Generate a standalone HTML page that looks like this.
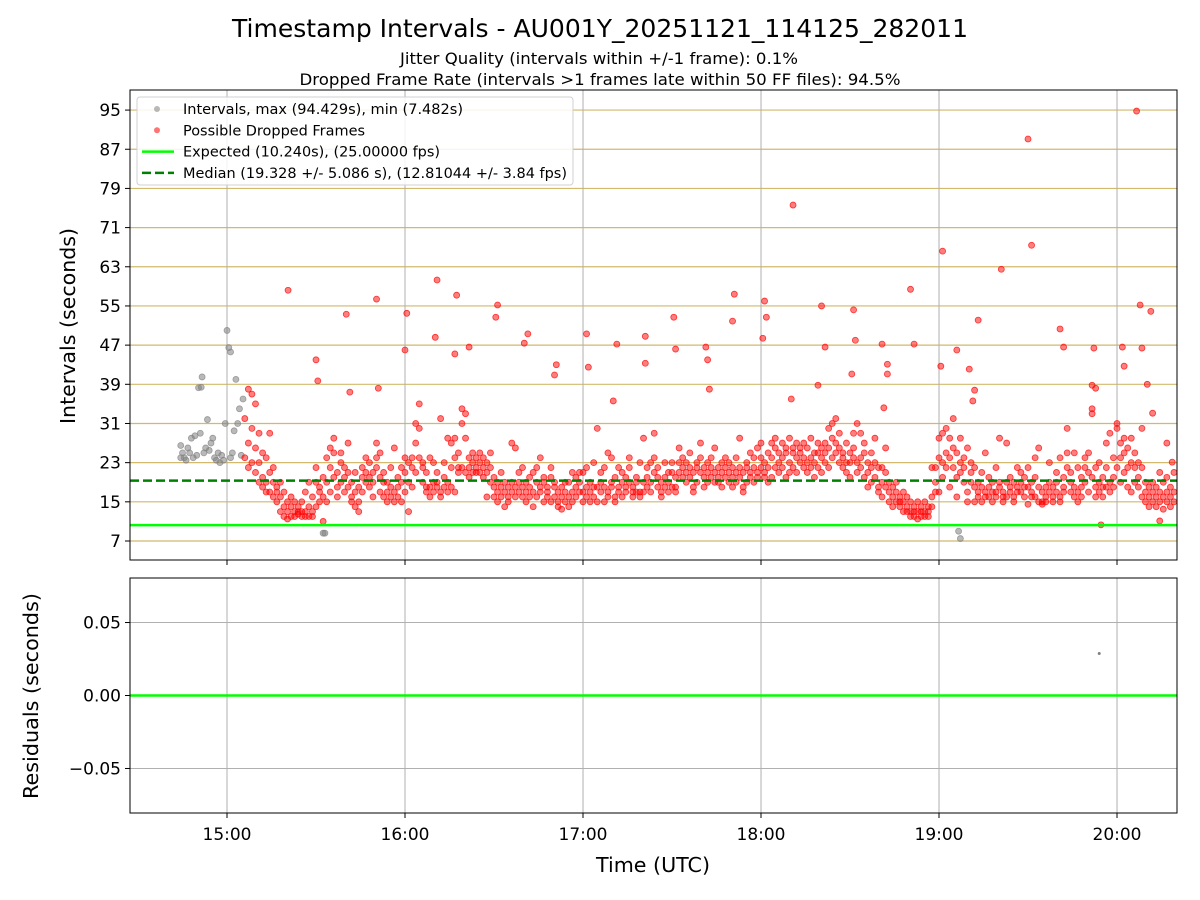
<!DOCTYPE html>
<html><head><meta charset="utf-8"><style>
html,body{margin:0;padding:0;background:#fff;}
svg{display:block;font-family:"DejaVu Sans","Liberation Sans",sans-serif;}
</style></head><body>
<svg id="chart" width="1200" height="900" viewBox="0 0 1200 900" xmlns="http://www.w3.org/2000/svg">
<rect width="1200" height="900" fill="#fff"/>
<text x="600" y="37" text-anchor="middle" font-size="25" textLength="736" lengthAdjust="spacingAndGlyphs">Timestamp Intervals - AU001Y_20251121_114125_282011</text>
<text x="599" y="64" text-anchor="middle" font-size="16" textLength="398" lengthAdjust="spacingAndGlyphs">Jitter Quality (intervals within +/-1 frame): 0.1%</text>
<text x="600" y="85" text-anchor="middle" font-size="16" textLength="601" lengthAdjust="spacingAndGlyphs">Dropped Frame Rate (intervals &gt;1 frames late within 50 FF files): 94.5%</text>
<g id="topg"></g>
<g id="botg"></g>
<text transform="translate(75,326) rotate(-90)" text-anchor="middle" font-size="20" textLength="196" lengthAdjust="spacingAndGlyphs">Intervals (seconds)</text>
<text transform="translate(38,696) rotate(-90)" text-anchor="middle" font-size="20" textLength="206" lengthAdjust="spacingAndGlyphs">Residuals (seconds)</text>
<text x="653" y="872" text-anchor="middle" font-size="20" textLength="114" lengthAdjust="spacingAndGlyphs">Time (UTC)</text>
</svg>
<script>
const yTicks=[7,15,23,31,39,47,55,63,71,79,87,95];
const xTickHours=[15,16,17,18,19,20];
const xTickLabels=["15:00","16:00","17:00","18:00","19:00","20:00"];
const resTicks=[0.05,0,-0.05];
const resTickLabels=["0.05","0.00","\u22120.05"];
const expectedValue=10.24;
const medianValue=19.328;
const grayTimes=[14.74,14.74,14.75,14.76,14.77,14.78,14.79,14.80,14.81,14.82,14.83,14.84,14.85,14.855,14.86,14.87,14.88,14.89,14.90,14.91,14.92,14.93,14.94,14.95,14.96,14.97,14.98,14.99,15.00,15.01,15.02,15.03,15.04,15.05,15.06,15.07,15.08,15.09,15.02,15.54,15.55,19.11,19.12];
const grayValues=[24,26.5,25,24,23.5,26,25,28,24,28.5,24.5,38.3,29,38.4,40.5,25,26,31.8,25.5,27,28,24,23.5,25,23,24.5,23.5,31,50,46.5,45.6,25,29.5,40,31,34,24.5,36,24,8.6,8.6,9,7.5];
const outlierTimes=[15.343,15.5,15.51,15.67,15.69,15.84,15.85,16.01,16.0,16.18,16.17,16.29,16.28,16.36,16.52,16.51,16.69,16.67,16.85,16.84,17.02,17.03,17.19,17.17,17.35,17.35,17.51,17.52,17.69,17.70,17.71,17.84,17.85,18.02,18.03,18.01,18.18,18.17,18.34,18.36,18.32,18.52,18.53,18.51,18.68,18.71,18.71,18.69,18.84,18.86,19.02,19.01,19.10,19.17,19.2,19.19,19.22,19.35,19.50,19.52,19.68,19.70,19.87,19.86,19.88,20.03,20.04,20.11,20.13,20.14,20.19,20.17,20.2,20.24,19.91,20.28,20.31];
const outlierValues=[58.2,44,39.7,53.3,37.4,56.4,38.2,53.5,46,60.3,48.6,57.2,45.2,46.6,55.2,52.7,49.3,47.4,43,40.9,49.3,42.5,47.2,35.6,48.8,43.3,52.7,46.2,46.6,44,38,51.9,57.4,56,52.7,48.4,75.6,36,55,46.6,38.8,54.2,48,41.1,47.2,43.1,41.1,34.2,58.4,47.2,66.2,42.7,46,42.1,37.8,35.6,52.1,62.5,89.1,67.4,50.3,46.6,46.4,38.8,38.2,46.6,42.7,94.8,55.2,46.4,53.9,39,33.1,11.1,10.3,27,23.1];
const bandTimes=[15.10,15.12,15.14,15.16,15.18,15.20,15.22,15.24,15.26,15.28,15.30,15.32,15.34,15.36,15.38,15.40,15.42,15.44,15.46,15.48,15.50,15.52,15.54,15.56,15.58,15.60,15.62,15.64,15.66,15.68,15.70,15.72,15.74,15.76,15.78,15.80,15.82,15.84,15.86,15.88,15.90,15.92,15.94,15.96,15.98,16.00,16.02,16.04,16.06,16.08,16.10,16.12,16.14,16.16,16.18,16.20,16.22,16.24,16.26,16.28,16.30,16.32,16.34,16.36,16.38,16.40,16.42,16.44,16.46,16.48,16.50,16.52,16.54,16.56,16.58,16.60,16.62,16.64,16.66,16.68,16.70,16.72,16.74,16.76,16.78,16.80,16.82,16.84,16.86,16.88,16.90,16.92,16.94,16.96,16.98,17.00,17.02,17.04,17.06,17.08,17.10,17.12,17.14,17.16,17.18,17.20,17.22,17.24,17.26,17.28,17.30,17.32,17.34,17.36,17.38,17.40,17.42,17.44,17.46,17.48,17.50,17.52,17.54,17.56,17.58,17.60,17.62,17.64,17.66,17.68,17.70,17.72,17.74,17.76,17.78,17.80,17.82,17.84,17.86,17.88,17.90,17.92,17.94,17.96,17.98,18.00,18.02,18.04,18.06,18.08,18.10,18.12,18.14,18.16,18.18,18.20,18.22,18.24,18.26,18.28,18.30,18.32,18.34,18.36,18.38,18.40,18.42,18.44,18.46,18.48,18.50,18.52,18.54,18.56,18.58,18.60,18.62,18.64,18.66,18.68,18.70,18.72,18.74,18.76,18.78,18.80,18.82,18.84,18.86,18.88,18.90,18.92,18.94,18.96,18.98,19.00,19.02,19.04,19.06,19.08,19.10,19.12,19.14,19.16,19.18,19.20,19.22,19.24,19.26,19.28,19.30,19.32,19.34,19.36,19.38,19.40,19.42,19.44,19.46,19.48,19.50,19.52,19.54,19.56,19.58,19.60,19.62,19.64,19.66,19.68,19.70,19.72,19.74,19.76,19.78,19.80,19.82,19.84,19.86,19.88,19.90,19.92,19.94,19.96,19.98,20.00,20.02,20.04,20.06,20.08,20.10,20.12,20.14,20.16,20.18,20.20,20.22,20.24,20.26,20.28,20.30,20.32];
const bandValues=[[24,32],[22,38,27],[23,37,30],[26,35,21],[23,29,19],[20,25,18],[19,24,17],[17,21,29],[16,19,22],[17,18,15],[13,16,19],[14,12,17],[13,15,11.5],[12,14,16],[13,12,15],[12.5,14,13],[12,13,15],[13,12,17],[12,14,19],[13,12,16],[14,19,22],[15,17,18],[11,16,20],[19,24,15],[22,26,17],[25,28,20],[18,21,16],[19,23,25],[20,22,17],[21,27,18],[16,15,19],[14,17,21],[15,13,18],[17,20,22],[19,24,21],[20,18,23],[21,16,19],[24,27,22],[20,25,17],[19,21,16],[17,15,19],[16,18,22],[15,17,26],[18,20,16],[19,15,22],[17,21,24],[13,19,23],[22,24,18],[31,27,21],[30,24,35],[22,23,19],[17,21,18],[16,18,24],[17,23,19],[19,21,18],[17,32,16],[18,23,20],[17,28,19],[22,18,27],[28,24,17],[22,21,25],[34,31,22],[33,28,21],[22,24,20],[23,21,25],[22,24,21],[21,23,25],[24,22,20],[23,16,21],[19,22,25],[18,16,20],[17,19,15],[18,16,21],[17,19,14],[16,18,15],[19,27,17],[18,26,16],[21,17,19],[16,18,22],[15,17,19],[18,20,16],[17,14,21],[19,16,22],[18,17,24],[15,19,20],[17,16,18],[20,22,15],[18,16,19],[15,14,17],[16,18,13.5],[15,17,19],[14,16,19],[17,15,21],[18,20,16],[19,21,17],[15,17,21],[18,16,22],[15,19,17],[23,16,18],[30,18,15],[21,17,19],[15,18,22],[17,25,16],[19,24,18],[16,15,20],[17,18,22],[19,16,21],[18,20,17],[22,24,19],[16,18,17],[19,17,20],[16,17,23],[17,28,19],[20,22,18],[17,19,23],[24,29,21],[22,20,18],[17,19,16],[20,23,18],[21,19,17],[23,21,18],[20,18,17],[26,21,23],[22,24,20],[19,21,23],[25,22,20],[18,17,21],[23,19,22],[21,27,24],[22,20,18],[19,21,23],[24,20,22],[21,19,26],[20,22,19],[18,21,23],[22,20,24],[19,23,21],[20,22,18],[19,21,24],[22,28,20],[21,18,17],[23,19,22],[20,25,21],[22,19,24],[26,21,20],[24,22,27],[23,20,21],[19,25,22],[24,27,20],[26,22,28],[25,21,23],[27,24,22],[26,20,25],[28,23,21],[26,25,22],[24,27,21],[23,25,26],[27,22,24],[21,23,26],[24,22,28],[20,23,25],[25,22,27],[24,21,26],[27,23,25],[30,26,22],[31,28,24],[32,27,25],[23,26,29],[25,22,24],[23,27,21],[25,20,23],[29,26,24],[23,21,31],[29,24,22],[27,20,25],[23,18,21],[22,19,25],[28,23,20],[18,22,17],[19,16,22],[21,26,18],[17,15,19],[16,18,14],[15,17,19],[14,16,15],[15,13,17],[14,16,13],[13,15,12],[12,14,13],[13,11.5,15],[12,14,13],[13,12,15],[12,14,13],[14,16,22],[19,17,22],[28,24,17],[23,20,29],[25,22,30],[18,24,28],[32,22,26],[16,25,20],[23,28,21],[22,24,19],[26,15,17],[23,21,19],[18,22,15],[16,19,17],[15,18,21],[17,16,25],[18,20,16],[15,17,19],[17,16,22],[19,18,28],[16,15,17],[27,19,16],[17,20,18],[16,15,19],[18,22,17],[19,17,21],[16,18,20],[14.5,18,22],[17,16,19],[20,24,16],[26,18,15],[15,17,14.5],[16,18,15],[17,23,19],[15,16,18],[19,17,21],[16,15,24],[18,20,17],[25,30,22],[21,19,17],[16,18,25],[22,17,15],[18,20,16],[24,22,19],[21,25,17],[33,34,20],[16,18,22],[17,19,23],[18,20,16],[22,27,18],[29,19,17],[18,20,24],[31,30,22],[27,24,19],[25,28,21],[22,18,26],[28,23,17],[22,25,19],[18,20,23],[30,22,16],[19,17,15],[14,16,18],[15,17,19],[16,14,18],[15,17,21],[16,13.5,19],[17,15,20],[14,16,18],[21,17,15]];
const residualTimes=[19.90];
const residualValues=[0.0288];

const NS="http://www.w3.org/2000/svg";
const L=130,R=1177,T1=90,B1=560,T2=578,B2=813;
const xMin=14.455,xMax=20.337,yMin=3.12,yMax=99.1,rMin=-0.0805,rMax=0.0805;
const X=t=>L+(t-xMin)/(xMax-xMin)*(R-L);
const Y=v=>B1-(v-yMin)/(yMax-yMin)*(B1-T1);
const RY=v=>B2-(v-rMin)/(rMax-rMin)*(B2-T2);
function mk(tag,attrs,parent){const e=document.createElementNS(NS,tag);for(const k in attrs)e.setAttribute(k,attrs[k]);parent.appendChild(e);return e;}
const gTop=document.getElementById('topg'),gBot=document.getElementById('botg');

yTicks.forEach(v=>{const l=mk('line',{x1:L,x2:R,y1:Y(v),y2:Y(v),stroke:'#d2b96e','stroke-width':1.2},gTop);


const tk=mk('line',{x1:L-5,x2:L,y1:Y(v),y2:Y(v),stroke:'#000'},gTop);


const tx=mk('text',{x:L-9,y:Y(v)+6,'text-anchor':'end','font-size':17},gTop);


tx.textContent=v;});
xTickHours.forEach((h,i)=>{[[gTop,T1,B1],[gBot,T2,B2]].forEach(([g,a,b])=>{const l=mk('line',{x1:X(h),x2:X(h),y1:a,y2:b,stroke:'#b0b0b0','stroke-width':1},g);


const tk=mk('line',{x1:X(h),x2:X(h),y1:b,y2:b+5,stroke:'#000'},g);

});
const tx=mk('text',{x:X(h),y:B2+27,'text-anchor':'middle','font-size':17},gBot);


tx.textContent=xTickLabels[i];});

grayTimes.forEach((t,i)=>{const c=mk('circle',{cx:X(t),cy:Y(grayValues[i]),r:3,fill:'rgba(128,128,128,0.55)',stroke:'rgba(128,128,128,0.7)','stroke-width':0.8},gTop);

});
function red(t,v){const c=mk('circle',{cx:X(t),cy:Y(v),r:3,fill:'rgba(255,0,0,0.5)',stroke:'rgba(255,0,0,0.75)','stroke-width':0.8},gTop);

}
bandTimes.forEach((t,i)=>bandValues[i].forEach(v=>red(t,v)));
outlierTimes.forEach((t,i)=>red(t,outlierValues[i]));

const ex=mk('line',{x1:L,x2:R,y1:Y(expectedValue),y2:Y(expectedValue),stroke:'#00ff00','stroke-width':2.5},gTop);


const md=mk('line',{x1:L,x2:R,y1:Y(medianValue),y2:Y(medianValue),stroke:'#008000','stroke-width':2.5,'stroke-dasharray':'9,4'},gTop);


const f1=mk('rect',{x:L,y:T1,width:R-L,height:B1-T1,fill:'none',stroke:'#000','stroke-width':1},gTop);



const lg=mk('g',{},gTop);


mk('rect',{x:137,y:97,width:436,height:88,rx:3,fill:'rgba(255,255,255,0.85)',stroke:'#d0d0d0'},lg);
const items=[["Intervals, max (94.429s), min (7.482s)","gray",280],["Possible Dropped Frames","red",182],["Expected (10.240s), (25.00000 fps)","exp",257],["Median (19.328 +/- 5.086 s), (12.81044 +/- 3.84 fps)","med",384]];
items.forEach((it,i)=>{const y=109+i*21.3;
if(it[1]=="gray")mk('circle',{cx:157,cy:y,r:3,fill:'rgba(128,128,128,0.55)'},lg);
else if(it[1]=="red")mk('circle',{cx:157,cy:y,r:3,fill:'rgba(255,0,0,0.55)'},lg);
else if(it[1]=="exp")mk('line',{x1:142,x2:174,y1:y,y2:y,stroke:'#00ff00','stroke-width':2.5},lg);
else mk('line',{x1:142,x2:174,y1:y,y2:y,stroke:'#008000','stroke-width':2.5,'stroke-dasharray':'9,4'},lg);
const tx=mk('text',{x:183,y:y+5,'font-size':14,textLength:it[2],lengthAdjust:'spacingAndGlyphs'},lg);


tx.textContent=it[0];});

resTicks.forEach((v,i)=>{const l=mk('line',{x1:L,x2:R,y1:RY(v),y2:RY(v),stroke:'#b0b0b0','stroke-width':1},gBot);


mk('line',{x1:L-5,x2:L,y1:RY(v),y2:RY(v),stroke:'#000'},gBot);
const tx=mk('text',{x:L-9,y:RY(v)+6,'text-anchor':'end','font-size':17},gBot);


tx.textContent=resTickLabels[i];});
const zl=mk('line',{x1:L,x2:R,y1:RY(0),y2:RY(0),stroke:'#00ff00','stroke-width':2.5},gBot);


residualTimes.forEach((t,i)=>{const c=mk('circle',{cx:X(t),cy:RY(residualValues[i]),r:1.5,fill:'#808080'},gBot);

});
const f2=mk('rect',{x:L,y:T2,width:R-L,height:B2-T2,fill:'none',stroke:'#000','stroke-width':1},gBot);


</script>
</body></html>
